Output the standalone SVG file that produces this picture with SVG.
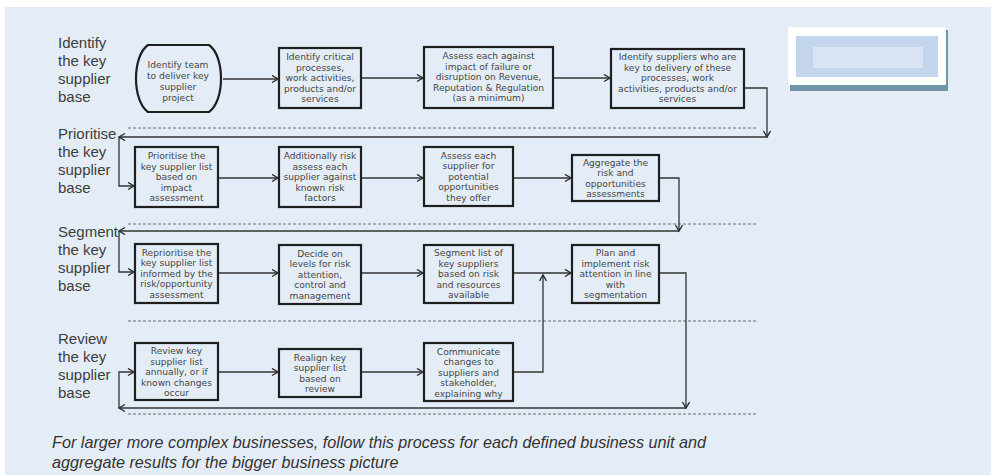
<svg xmlns="http://www.w3.org/2000/svg" width="991" height="475" viewBox="0 0 991 475">
  <defs>
    <marker id="chev" markerUnits="userSpaceOnUse" markerWidth="10" markerHeight="10" refX="7" refY="4" orient="auto">
      <path d="M1,0.5 L7,4 L1,7.5" fill="none" stroke="#2b2b2b" stroke-width="1.4"/>
    </marker>
    <style>
      .lane { font-family: "Liberation Sans", Arial, sans-serif; font-size: 15px; fill: #3d3d3d; }
      .box { fill: none; stroke: #1f1f1f; stroke-width: 2.2; }
      .bt { font-family: "DejaVu Sans", "Liberation Sans", sans-serif; font-size: 9.1px; fill: #454545; text-anchor: middle; }
      .sep { stroke: #6b6b6b; stroke-width: 1; stroke-dasharray: 3 2; fill: none; }
      .wire { fill: none; stroke: #333; stroke-width: 1.3; marker-end: url(#chev); }
      .note { font-family: "Liberation Sans", Arial, sans-serif; font-size: 16.2px; font-style: italic; fill: #333; }
    </style>
  </defs>

  <!-- page -->
  <rect x="0" y="0" width="991" height="475" fill="#ffffff"/>
  <rect x="5" y="7" width="986" height="468" fill="#e4edf7"/>

  <!-- corner panel -->
  <g id="panel">
    <rect x="790" y="30" width="158" height="61" fill="#6f93a8"/>
    <rect x="788" y="27" width="158" height="58" fill="#ffffff"/>
    <rect x="796" y="36" width="142" height="41" fill="#c4d6ee"/>
    <rect x="813" y="47" width="110" height="21" fill="#dae4f2"/>
  </g>

  <!-- lane separators -->
  <g id="separators">
    <line class="sep" x1="128" y1="128" x2="757" y2="128"/>
    <line class="sep" x1="128" y1="224" x2="757" y2="224"/>
    <line class="sep" x1="128" y1="321" x2="757" y2="321"/>
    <line class="sep" x1="128" y1="414" x2="757" y2="414"/>
  </g>

  <!-- lane titles -->
  <g id="lane-identify">
    <text class="lane" x="58" y="48">Identify</text>
    <text class="lane" x="58" y="66">the key</text>
    <text class="lane" x="58" y="84">supplier</text>
    <text class="lane" x="58" y="102">base</text>
  </g>
  <g id="lane-prioritise">
    <text class="lane" x="58" y="139">Prioritise</text>
    <text class="lane" x="58" y="157">the key</text>
    <text class="lane" x="58" y="175">supplier</text>
    <text class="lane" x="58" y="193">base</text>
  </g>
  <g id="lane-segment">
    <text class="lane" x="58" y="237">Segment</text>
    <text class="lane" x="58" y="255">the key</text>
    <text class="lane" x="58" y="273">supplier</text>
    <text class="lane" x="58" y="291">base</text>
  </g>
  <g id="lane-review">
    <text class="lane" x="58" y="344">Review</text>
    <text class="lane" x="58" y="362">the key</text>
    <text class="lane" x="58" y="380">supplier</text>
    <text class="lane" x="58" y="398">base</text>
  </g>

  <!-- row 1 -->
  <g id="n-team">
    <path class="box" stroke-width="2.6" d="M148,45 H209 C225,56 225,101 209,112 H148 C132,101 132,56 148,45 Z"/>
    <text class="bt" x="178" y="68">Identify team</text>
    <text class="bt" x="178" y="79">to deliver key</text>
    <text class="bt" x="178" y="90">supplier</text>
    <text class="bt" x="178" y="101">project</text>
  </g>
  <g id="n-critical">
    <rect class="box" x="279" y="48" width="82" height="60"/>
    <text class="bt" x="320" y="60">Identify critical</text>
    <text class="bt" x="320" y="70.5">processes,</text>
    <text class="bt" x="320" y="81">work activities,</text>
    <text class="bt" x="320" y="91.5">products and/or</text>
    <text class="bt" x="320" y="102">services</text>
  </g>
  <g id="n-assess">
    <rect class="box" x="424" y="47" width="129" height="61"/>
    <text class="bt" x="488.5" y="59">Assess each against</text>
    <text class="bt" x="488.5" y="69.5">impact of failure or</text>
    <text class="bt" x="488.5" y="80">disruption on Revenue,</text>
    <text class="bt" x="488.5" y="90.5">Reputation &amp; Regulation</text>
    <text class="bt" x="488.5" y="101">(as a minimum)</text>
  </g>
  <g id="n-suppliers">
    <rect class="box" x="611" y="49" width="133" height="59"/>
    <text class="bt" x="677.5" y="60">Identify suppliers who are</text>
    <text class="bt" x="677.5" y="70.5">key to delivery of these</text>
    <text class="bt" x="677.5" y="81">processes, work</text>
    <text class="bt" x="677.5" y="91.5">activities, products and/or</text>
    <text class="bt" x="677.5" y="102">services</text>
  </g>

  <!-- row 2 -->
  <g id="n-prioritise">
    <rect class="box" x="135" y="147" width="83" height="60"/>
    <text class="bt" x="176.5" y="159">Prioritise the</text>
    <text class="bt" x="176.5" y="169.5">key supplier list</text>
    <text class="bt" x="176.5" y="180">based on</text>
    <text class="bt" x="176.5" y="190.5">impact</text>
    <text class="bt" x="176.5" y="201">assessment</text>
  </g>
  <g id="n-riskassess">
    <rect class="box" x="279" y="147" width="82" height="60"/>
    <text class="bt" x="320" y="159">Additionally risk</text>
    <text class="bt" x="320" y="169.5">assess each</text>
    <text class="bt" x="320" y="180">supplier against</text>
    <text class="bt" x="320" y="190.5">known risk</text>
    <text class="bt" x="320" y="201">factors</text>
  </g>
  <g id="n-opportunities">
    <rect class="box" x="424" y="147" width="89" height="59"/>
    <text class="bt" x="468.5" y="158.5">Assess each</text>
    <text class="bt" x="468.5" y="169">supplier for</text>
    <text class="bt" x="468.5" y="179.5">potential</text>
    <text class="bt" x="468.5" y="190">opportunities</text>
    <text class="bt" x="468.5" y="200.5">they offer</text>
  </g>
  <g id="n-aggregate">
    <rect class="box" x="572" y="155" width="87" height="46"/>
    <text class="bt" x="615.5" y="165.5">Aggregate the</text>
    <text class="bt" x="615.5" y="176">risk and</text>
    <text class="bt" x="615.5" y="186.5">opportunities</text>
    <text class="bt" x="615.5" y="197">assessments</text>
  </g>

  <!-- row 3 -->
  <g id="n-reprioritise">
    <rect class="box" x="135" y="244" width="83" height="59"/>
    <text class="bt" x="176.5" y="255.5">Reprioritise the</text>
    <text class="bt" x="176.5" y="266">key supplier list</text>
    <text class="bt" x="176.5" y="276.5">informed by the</text>
    <text class="bt" x="176.5" y="287">risk/opportunity</text>
    <text class="bt" x="176.5" y="297.5">assessment</text>
  </g>
  <g id="n-levels">
    <rect class="box" x="279" y="245" width="82" height="59"/>
    <text class="bt" x="320" y="256.5">Decide on</text>
    <text class="bt" x="320" y="267">levels for risk</text>
    <text class="bt" x="320" y="277.5">attention,</text>
    <text class="bt" x="320" y="288">control and</text>
    <text class="bt" x="320" y="298.5">management</text>
  </g>
  <g id="n-segment">
    <rect class="box" x="424" y="245" width="89" height="58"/>
    <text class="bt" x="468.5" y="256">Segment list of</text>
    <text class="bt" x="468.5" y="266.5">key suppliers</text>
    <text class="bt" x="468.5" y="277">based on risk</text>
    <text class="bt" x="468.5" y="287.5">and resources</text>
    <text class="bt" x="468.5" y="298">available</text>
  </g>
  <g id="n-plan">
    <rect class="box" x="572" y="245" width="87" height="58"/>
    <text class="bt" x="615.5" y="256">Plan and</text>
    <text class="bt" x="615.5" y="266.5">implement risk</text>
    <text class="bt" x="615.5" y="277">attention in line</text>
    <text class="bt" x="615.5" y="287.5">with</text>
    <text class="bt" x="615.5" y="298">segmentation</text>
  </g>

  <!-- row 4 -->
  <g id="n-review">
    <rect class="box" x="135" y="343" width="83" height="57"/>
    <text class="bt" x="176.5" y="354">Review key</text>
    <text class="bt" x="176.5" y="364.5">supplier list</text>
    <text class="bt" x="176.5" y="375">annually, or if</text>
    <text class="bt" x="176.5" y="385.5">known changes</text>
    <text class="bt" x="176.5" y="396">occur</text>
  </g>
  <g id="n-realign">
    <rect class="box" x="279" y="349" width="82" height="48"/>
    <text class="bt" x="320" y="360.5">Realign key</text>
    <text class="bt" x="320" y="371">supplier list</text>
    <text class="bt" x="320" y="381.5">based on</text>
    <text class="bt" x="320" y="392">review</text>
  </g>
  <g id="n-communicate">
    <rect class="box" x="424" y="343" width="89" height="58"/>
    <text class="bt" x="468.5" y="354.5">Communicate</text>
    <text class="bt" x="468.5" y="365">changes to</text>
    <text class="bt" x="468.5" y="375.5">suppliers and</text>
    <text class="bt" x="468.5" y="386">stakeholder,</text>
    <text class="bt" x="468.5" y="396.5">explaining why</text>
  </g>

  <!-- connectors -->
  <g id="connectors">
    <path class="wire" d="M223,79 H278"/>
    <path class="wire" d="M362,78 H423"/>
    <path class="wire" d="M554,78 H610"/>
    <path class="wire" d="M745,88 H767 V137"/>
    <path class="wire" d="M767,137 H119"/>
    <path class="wire" d="M119,137 V186 H134"/>

    <path class="wire" d="M219,178 H278"/>
    <path class="wire" d="M362,178 H423"/>
    <path class="wire" d="M514,178 H571"/>
    <path class="wire" d="M660,178 H679 V231"/>
    <path class="wire" d="M679,231 H119"/>
    <path class="wire" d="M119,231 V272 H134"/>

    <path class="wire" d="M219,273 H278"/>
    <path class="wire" d="M362,273 H423"/>
    <path class="wire" d="M514,273 H571"/>
    <path class="wire" d="M660,273 H686 V408"/>
    <path class="wire" d="M686,408 H119"/>
    <path class="wire" d="M119,408 V372 H134"/>

    <path class="wire" d="M219,372 H278"/>
    <path class="wire" d="M362,372 H423"/>
    <path class="wire" d="M514,372 H543 V275"/>
  </g>

  <!-- footnote -->
  <g id="footnote">
    <text class="note" x="52" y="448">For larger more complex businesses, follow this process for each defined business unit and</text>
    <text class="note" x="52" y="468">aggregate results for the bigger business picture</text>
  </g>
</svg>
